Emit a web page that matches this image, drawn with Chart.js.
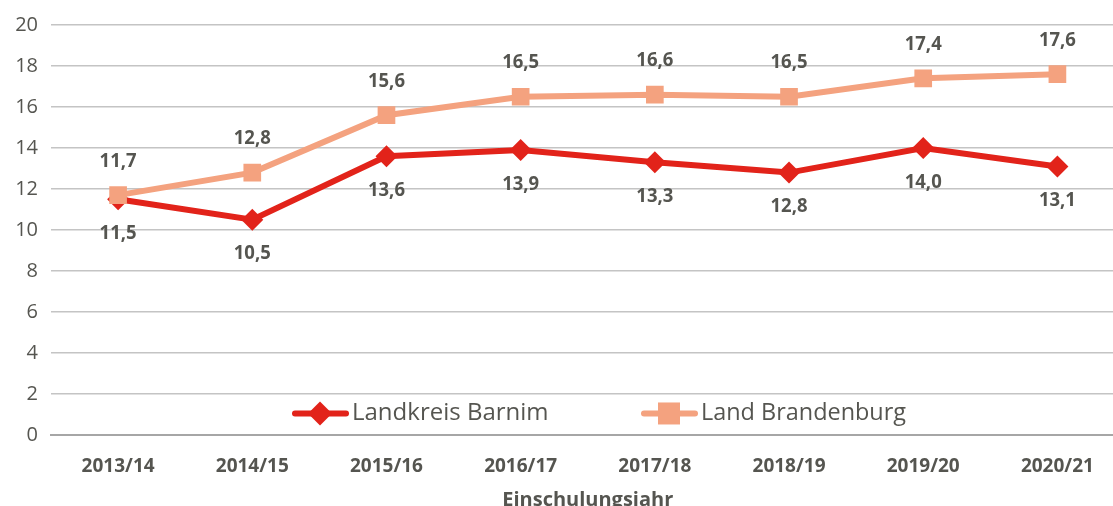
<!DOCTYPE html>
<html lang="de">
<head>
    <meta charset="UTF-8">
    <title>Einschulungsjahr</title>
    <script src="https://cdn.jsdelivr.net/npm/chart.js"></script>
    <style>
        html, body { margin: 0; padding: 0; overflow: hidden; background: #fff; }
        #wrap { width: 1113px; height: 506px; overflow: hidden; position: relative; }
        canvas { display: block; }
    </style>
</head>
<body>
    <div id="wrap"><canvas id="chart" width="1137" height="524"></canvas></div>

    <script>
        // Data
        const years = ['2013/14', '2014/15', '2015/16', '2016/17', '2017/18', '2018/19', '2019/20', '2020/21'];
        const barnim = [11.5, 10.5, 13.6, 13.9, 13.3, 12.8, 14.0, 13.1];
        const brandenburg = [11.7, 12.8, 15.6, 16.5, 16.6, 16.5, 17.4, 17.6];
        const yTicks = [0, 2, 4, 6, 8, 10, 12, 14, 16, 18, 20];

        const RED = '#e2231a';
        const SALMON = '#f4a27f';
        const TEXT = '#555550';
        const FONT = "'Open Sans', sans-serif";

        const fmt = v => v.toFixed(1).replace('.', ',');

        // value labels above / below points
        const valueLabels = {
            id: 'valueLabels',
            afterDatasetsDraw(chart) {
                const ctx = chart.ctx;
                ctx.save();
                ctx.font = 'bold 20px ' + FONT;
                ctx.fillStyle = TEXT;
                ctx.textAlign = 'center';
                ctx.textBaseline = 'middle';
                chart.data.datasets.forEach((ds, i) => {
                    const meta = chart.getDatasetMeta(i);
                    const dir = ds.labelPos === 'above' ? -1 : 1;
                    meta.data.forEach((pt, j) => {
                        ctx.fillText(fmt(ds.data[j]), pt.x, pt.y + dir * 34, 37);
                    });
                });
                ctx.restore();
            }
        };

        // legend inside the plot, between 0 and 2
        const innerLegend = {
            id: 'innerLegend',
            afterDraw(chart) {
                const ctx = chart.ctx;
                const y = chart.scales.y.getPixelForValue(1.05);
                const items = [
                    { x: 292, color: RED, style: 'rectRot', text: 'Landkreis Barnim' },
                    { x: 641, color: SALMON, style: 'rect', text: 'Land Brandenburg' }
                ];
                ctx.save();
                items.forEach(it => {
                    ctx.strokeStyle = it.color;
                    ctx.lineWidth = 6;
                    ctx.lineCap = 'round';
                    ctx.beginPath();
                    ctx.moveTo(it.x + 3, y);
                    ctx.lineTo(it.x + 54, y);
                    ctx.stroke();
                    ctx.fillStyle = it.color;
                    const cx = it.x + 28;
                    if (it.style === 'rect') {
                        ctx.fillRect(cx - 11, y - 11, 22, 22);
                    } else {
                        ctx.beginPath();
                        ctx.moveTo(cx, y - 12);
                        ctx.lineTo(cx + 12, y);
                        ctx.lineTo(cx, y + 12);
                        ctx.lineTo(cx - 12, y);
                        ctx.closePath();
                        ctx.fill();
                    }
                    ctx.fillStyle = TEXT;
                    ctx.font = '24px ' + FONT;
                    ctx.textAlign = 'left';
                    ctx.textBaseline = 'middle';
                    ctx.fillText(it.text, it.x + 60, y, 205);
                });
                ctx.restore();
            }
        };

        new Chart(document.getElementById('chart'), {
            type: 'line',
            data: {
                labels: years,
                datasets: [
                    {
                        label: 'Land Brandenburg',
                        data: brandenburg,
                        borderColor: SALMON,
                        backgroundColor: SALMON,
                        borderWidth: 6,
                        pointStyle: 'rect',
                        pointRadius: 12.5,
                        pointBorderWidth: 0,
                        tension: 0,
                        labelPos: 'above'
                    },
                    {
                        label: 'Landkreis Barnim',
                        data: barnim,
                        borderColor: RED,
                        backgroundColor: RED,
                        borderWidth: 6,
                        pointStyle: 'rectRot',
                        pointRadius: 11,
                        pointBorderWidth: 0,
                        tension: 0,
                        labelPos: 'below'
                    }
                ]
            },
            options: {
                responsive: false,
                animation: false,
                layout: { padding: { top: 23, right: 1, left: 0, bottom: 12 } },
                plugins: {
                    legend: { display: false },
                    tooltip: { enabled: false }
                },
                scales: {
                    x: {
                        offset: true,
                        grid: { display: false },
                        border: { color: '#a6a6a6', width: 2 },
                        ticks: {
                            color: TEXT,
                            font: { family: FONT, size: 19, weight: 'bold' },
                            padding: 12
                        },
                        title: {
                            display: true,
                            text: 'Einschulungsjahr',
                            color: TEXT,
                            font: { family: FONT, size: 20, weight: 'bold' },
                            padding: { top: 2, bottom: 0 }
                        },
                        afterFit: s => { s.height = 77; }
                    },
                    y: {
                        min: 0,
                        max: 20,
                        afterBuildTicks: s => { s.ticks = yTicks.map(v => ({ value: v })); },
                        grid: {
                            color: ctx => ctx.tick && ctx.tick.value === 0 ? '#a6a6a6' : '#c4c4c4',
                            lineWidth: ctx => ctx.tick && ctx.tick.value === 0 ? 2 : 1.5,
                            drawTicks: false
                        },
                        border: { display: false },
                        ticks: {
                            color: TEXT,
                            font: { family: FONT, size: 20 },
                            padding: 13
                        },
                        afterFit: s => { s.width = 51; }
                    }
                }
            },
            plugins: [valueLabels, innerLegend]
        });
    </script>
</body>
</html>
